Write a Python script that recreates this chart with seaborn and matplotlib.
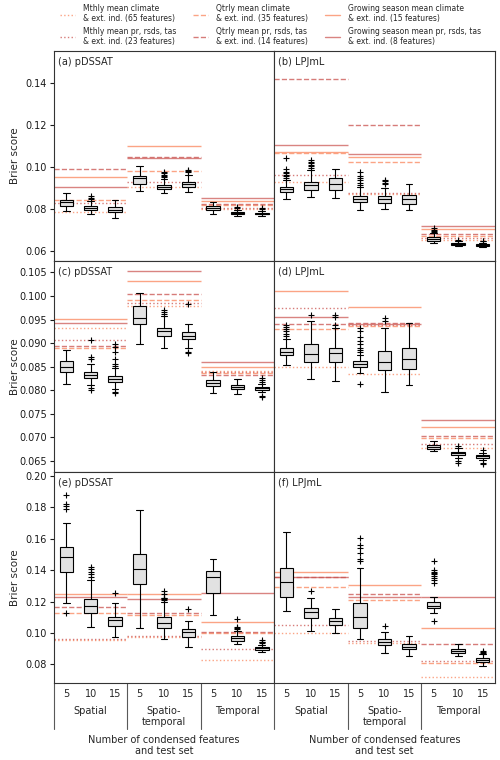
import numpy as np
import pandas as pd
import matplotlib
matplotlib.use('Agg')
import matplotlib.pyplot as plt
import matplotlib.transforms as mtransforms
from matplotlib.lines import Line2D
import seaborn as sns

test_sets = ['Spatial', 'Spatio-\ntemporal', 'Temporal']
n_features = ['5', '10', '15']
models = ['pDSSAT', 'LPJmL']

feature_sets = ['Mthly mean climate\n& ext. ind. (65 features)',
                'Mthly mean pr, rsds, tas\n& ext. ind. (23 features)',
                'Qtrly mean climate\n& ext. ind. (35 features)',
                'Qtrly mean pr, rsds, tas\n& ext. ind. (14 features)',
                'Growing season mean climate\n& ext. ind. (15 features)',
                'Growing season mean pr, rsds, tas\n& ext. ind. (8 features)']

# box summaries: (lower whisker, q1, median, q3, upper whisker)
box_a = [(0.0790, 0.0816, 0.0832, 0.0843, 0.0878), (0.0775, 0.0795, 0.0806, 0.0816, 0.0838),
         (0.0755, 0.0784, 0.0795, 0.0808, 0.0842), (0.0884, 0.0919, 0.0948, 0.0959, 0.1005),
         (0.0875, 0.0895, 0.0906, 0.0916, 0.0945), (0.0881, 0.0906, 0.0919, 0.0930, 0.0962),
         (0.0778, 0.0795, 0.0806, 0.0814, 0.0832), (0.0768, 0.0776, 0.0781, 0.0786, 0.0796),
         (0.0766, 0.0774, 0.0778, 0.0783, 0.0791)]
fliers_a = [[], [0.0849, 0.0854, 0.0862], [], [], [0.0953, 0.0958, 0.0964, 0.0970, 0.0977],
            [0.0975, 0.0982, 0.0988], [], [0.0803, 0.0808], [0.0799, 0.0804]]

box_b = [(0.0849, 0.0881, 0.0895, 0.0906, 0.0940), (0.0859, 0.0890, 0.0913, 0.0930, 0.0986),
         (0.0851, 0.0890, 0.0919, 0.0946, 0.0989), (0.0795, 0.0833, 0.0848, 0.0862, 0.0903),
         (0.0798, 0.0827, 0.0846, 0.0862, 0.0898), (0.0795, 0.0824, 0.0846, 0.0867, 0.0917),
         (0.0640, 0.0650, 0.0658, 0.0665, 0.0685), (0.0623, 0.0630, 0.0634, 0.0638, 0.0646),
         (0.0617, 0.0624, 0.0628, 0.0632, 0.0640)]
fliers_b = [[0.0948, 0.0955, 0.0962, 0.0970, 0.0978, 0.0990, 0.1041],
            [0.0995, 0.1003, 0.1010, 0.1018, 0.1025, 0.1033], [],
            [0.0915, 0.0925, 0.0940, 0.0946, 0.0957, 0.0978], [0.0918, 0.0925, 0.0932, 0.0940], [],
            [0.0690, 0.0694, 0.0700, 0.0708], [0.0653], [0.0646, 0.0649]]

box_c = [(0.0814, 0.0838, 0.0849, 0.0862, 0.0886), (0.0810, 0.0825, 0.0832, 0.0838, 0.0855),
         (0.0803, 0.0818, 0.0824, 0.0830, 0.0846), (0.0899, 0.0940, 0.0954, 0.0978, 0.1007),
         (0.0889, 0.0914, 0.0925, 0.0932, 0.0957), (0.0890, 0.0908, 0.0915, 0.0923, 0.0940),
         (0.0794, 0.0809, 0.0816, 0.0822, 0.0838), (0.0792, 0.0802, 0.0807, 0.0811, 0.0823),
         (0.0795, 0.0800, 0.0804, 0.0807, 0.0814)]
fliers_c = [[], [0.0800, 0.0804, 0.0867, 0.0870, 0.0906],
            [0.0793, 0.0797, 0.0852, 0.0855, 0.0866, 0.0880, 0.0892, 0.0899], [],
            [0.0961, 0.0966, 0.0971], [0.0878, 0.0882, 0.0982], [], [],
            [0.0785, 0.0788, 0.0818, 0.0822, 0.0825]]

box_d = [(0.0853, 0.0874, 0.0882, 0.0889, 0.0908), (0.0823, 0.0860, 0.0877, 0.0897, 0.0947),
         (0.0820, 0.0860, 0.0878, 0.0890, 0.0932), (0.0836, 0.0850, 0.0856, 0.0861, 0.0875),
         (0.0795, 0.0842, 0.0860, 0.0883, 0.0931), (0.0811, 0.0845, 0.0867, 0.0890, 0.0943),
         (0.0671, 0.0675, 0.0680, 0.0683, 0.0692), (0.0655, 0.0662, 0.0666, 0.0669, 0.0677),
         (0.0651, 0.0656, 0.0659, 0.0662, 0.0667)]
fliers_d = [[0.0915, 0.0920, 0.0925, 0.0930, 0.0934, 0.0939], [0.0959], [0.0938, 0.0955, 0.0960],
            [0.0812, 0.0882, 0.0886, 0.0890, 0.0897, 0.0905, 0.0912, 0.0925, 0.0933],
            [0.0947, 0.0953], [], [], [0.0646, 0.0650, 0.0681], [0.0643, 0.0645, 0.0673]]

box_e = [(0.1189, 0.1390, 0.1482, 0.1546, 0.1698), (0.1040, 0.1125, 0.1171, 0.1214, 0.1337),
         (0.0976, 0.1044, 0.1082, 0.1103, 0.1189), (0.1030, 0.1312, 0.1409, 0.1503, 0.1785),
         (0.0961, 0.1031, 0.1065, 0.1099, 0.1195), (0.0908, 0.0976, 0.1006, 0.1023, 0.1078),
         (0.1114, 0.1252, 0.1358, 0.1397, 0.1471), (0.0929, 0.0950, 0.0969, 0.0980, 0.1012),
         (0.0876, 0.0891, 0.0902, 0.0908, 0.0923)]
fliers_e = [[0.1130, 0.1788, 0.1809, 0.1822, 0.1879], [0.1358, 0.1375, 0.1390, 0.1405, 0.1420],
            [0.1252], [], [0.1210, 0.1215, 0.1220, 0.1225, 0.1250, 0.1268], [0.1150], [],
            [0.1028, 0.1033, 0.1040, 0.1089], [0.0936, 0.0940, 0.0945, 0.0955]]

box_f = [(0.1142, 0.1231, 0.1322, 0.1416, 0.1645), (0.1014, 0.1093, 0.1135, 0.1161, 0.1220),
         (0.0997, 0.1050, 0.1076, 0.1097, 0.1150), (0.0959, 0.1033, 0.1099, 0.1190, 0.1412),
         (0.0874, 0.0923, 0.0944, 0.0961, 0.1008), (0.0855, 0.0896, 0.0912, 0.0929, 0.0978),
         (0.1129, 0.1157, 0.1173, 0.1195, 0.1231), (0.0853, 0.0874, 0.0887, 0.0899, 0.0927),
         (0.0789, 0.0816, 0.0827, 0.0838, 0.0866)]
fliers_f = [[], [0.1265], [], [0.1460, 0.1469, 0.1507, 0.1539, 0.1560, 0.1603], [0.1044], [],
            [0.1078, 0.1318, 0.1335, 0.1350, 0.1365, 0.1375, 0.1380, 0.1390, 0.1400, 0.1460],
            [], [0.0873, 0.0878, 0.0882]]

# reference scores of the full feature sets, one value per test set (same order as feature_sets)
ref_a = [[0.0787, 0.0906, 0.0800], [0.0827, 0.0930, 0.0806], [0.0845, 0.0982, 0.0818],
         [0.0992, 0.1046, 0.0822], [0.0951, 0.1099, 0.0838], [0.0906, 0.1044, 0.0851]]
ref_b = [[0.0929, 0.0871, 0.0651], [0.0962, 0.0874, 0.0660], [0.1067, 0.1025, 0.0673],
         [0.1417, 0.1202, 0.0679], [0.1070, 0.1046, 0.0705], [0.1103, 0.1063, 0.0719]]
ref_c = [[0.0932, 0.0979, 0.0841], [0.0907, 0.0985, 0.0838], [0.0889, 0.0992, 0.0836],
         [0.0894, 0.1005, 0.0833], [0.0952, 0.1032, 0.0850], [0.0942, 0.1053, 0.0860]]
ref_d = [[0.0850, 0.0835, 0.0677], [0.0974, 0.0939, 0.0685], [0.0930, 0.0936, 0.0699],
         [0.0940, 0.0943, 0.0702], [0.1011, 0.0976, 0.0722], [0.0956, 0.0941, 0.0736]]
ref_e = [[0.0958, 0.0972, 0.0827], [0.0962, 0.0980, 0.0896], [0.1124, 0.1113, 0.0999],
         [0.1166, 0.1130, 0.1003], [0.1250, 0.1248, 0.1071], [0.1230, 0.1216, 0.1252]]
ref_f = [[0.1001, 0.0938, 0.0721], [0.1050, 0.0946, 0.0821], [0.1290, 0.1210, 0.0806],
         [0.1355, 0.1247, 0.0927], [0.1385, 0.1305, 0.1033], [0.1358, 0.1231, 0.1231]]

LIGHT = '#fb9a78'
DARK = '#c9504c'
line_styles = [(LIGHT, ':'), (DARK, ':'), (LIGHT, '--'), (DARK, '--'), (LIGHT, '-'), (DARK, '-')]
line_alpha = [0.9, 0.75, 0.9, 0.75, 0.9, 0.7]

panels = [('(a)', box_a, fliers_a, ref_a), ('(b)', box_b, fliers_b, ref_b),
          ('(c)', box_c, fliers_c, ref_c), ('(d)', box_d, fliers_d, ref_d),
          ('(e)', box_e, fliers_e, ref_e), ('(f)', box_f, fliers_f, ref_f)]
ylims = [(0.0554, 0.1552), (0.0626, 0.1075), (0.0683, 0.2025)]
yticks = [np.arange(0.06, 0.141, 0.02), np.arange(0.065, 0.1051, 0.005), np.arange(0.08, 0.201, 0.02)]
yfmt = ['{:.2f}', '{:.3f}', '{:.2f}']


def box_frame(stats, fliers):
    # long-form table whose quartiles and whiskers equal the summaries above
    rows = []
    for i, (st, fl) in enumerate(zip(stats, fliers)):
        lo, q1, med, q3, hi = st
        vals = [lo] + [q1] * 20 + [med] * 20 + [q3] * 20 + [hi] + list(fl)
        rows += [(i, v) for v in vals]
    return pd.DataFrame(rows, columns=['box', 'brier'])


sns.set_theme(style='white')
plt.rcParams['font.family'] = ['DejaVu Sans']
fig = plt.figure(figsize=(5, 7.6), dpi=100)

left, mid, right = 54 / 500, 274 / 500, 495 / 500
row_edges = [51, 260.7, 472, 682.7]
FS = 7

for k, (tag, stats, fl, ref) in enumerate(panels):
    r, c = divmod(k, 2)
    x0 = left if c == 0 else mid
    x1 = mid if c == 0 else right
    y_top = 1 - row_edges[r] / 760
    y_bot = 1 - row_edges[r + 1] / 760
    ax = fig.add_axes([x0, y_bot, x1 - x0, y_top - y_bot])

    df = box_frame(stats, fl)
    sns.boxplot(data=df, x='box', y='brier', ax=ax, color='#e2e2e2', linecolor='black',
                linewidth=0.8, width=0.55, whis=1.5,
                flierprops=dict(marker='+', markersize=4.5, markeredgecolor='black',
                                markeredgewidth=0.8))

    for vals, (col, ls), al in zip(ref, line_styles, line_alpha):
        for g, v in enumerate(vals):
            ax.hlines(v, g * 3 - 0.5, g * 3 + 2.5, colors=col, linestyles=ls,
                      linewidth=1.0, alpha=al, zorder=0.5)

    ax.set_xlim(-0.5, 8.5)
    ax.set_ylim(*ylims[r])
    ax.set_xlabel('')
    ax.set_ylabel('')
    for sp in ax.spines.values():
        sp.set_color('0.2')
        sp.set_linewidth(0.8)

    ax.text(0.02, 1 - 11 / 210, f'{tag} {models[c]}', transform=ax.transAxes,
            ha='left', va='center', fontsize=FS)

    if c == 0:
        ax.set_yticks(yticks[r])
        ax.set_yticklabels([yfmt[r].format(t) for t in yticks[r]], fontsize=FS)
        ax.tick_params(axis='y', length=3, width=0.8, pad=2, left=True, colors='0.1')
        ax.set_ylabel('Brier score', fontsize=7.5)
        ax.yaxis.set_label_coords(-0.155, 0.5)
    else:
        ax.set_yticks(yticks[r])
        ax.tick_params(axis='y', length=0, labelleft=False)

    if r == 2:
        ax.set_xticks(range(9))
        ax.set_xticklabels(n_features * 3, fontsize=FS)
        ax.tick_params(axis='x', length=0, pad=4.5)
        trans = mtransforms.blended_transform_factory(ax.transData, ax.transAxes)
        for g in range(3):
            ax.plot([g * 3 - 0.5] * 2, [0, -0.22], transform=trans, color='0.35',
                    linewidth=0.8, clip_on=False)
            ax.text(g * 3 + 1, -0.112, test_sets[g], transform=trans, ha='center', va='top',
                    fontsize=FS, linespacing=1.1)
        ax.text(0.5, -0.25, 'Number of condensed features\nand test set', transform=ax.transAxes,
                ha='center', va='top', fontsize=FS, linespacing=1.1)
    else:
        ax.set_xticks([])

handles = [Line2D([], [], color=col, linestyle=ls, linewidth=1.0, alpha=al)
           for (col, ls), al in zip(line_styles, line_alpha)]
fig.legend(handles, feature_sets, ncol=3, loc='upper left', bbox_to_anchor=(60 / 500, 1 - 4 / 760),
           frameon=False, fontsize=5.5, handlelength=2.0, handletextpad=1.0, columnspacing=2.2,
           labelspacing=0.45, borderpad=0, borderaxespad=0)

fig.savefig('out.png', dpi=100)
